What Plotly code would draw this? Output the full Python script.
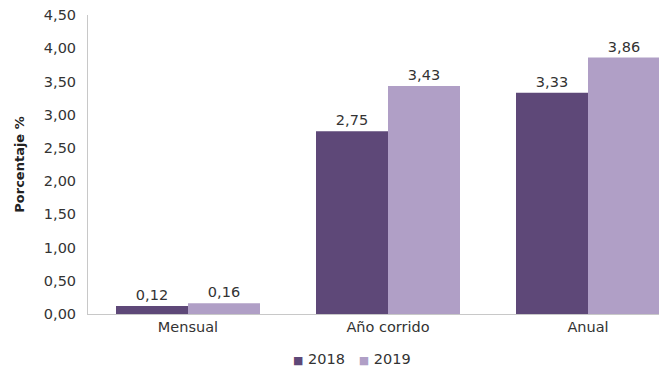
import plotly.graph_objects as go

categories = ["Mensual", "Año corrido", "Anual"]
values_2018 = [0.12, 2.75, 3.33]
values_2019 = [0.16, 3.43, 3.86]
series_names = ["2018", "2019"]
colors = ["#5e4878", "#b09fc6"]

FONT = "DejaVu Sans, Liberation Sans, Arial"
TEXT = "#333333"

fig = go.Figure()
for name, vals, col in zip(series_names, [values_2018, values_2019], colors):
    fig.add_trace(go.Bar(
        name=name,
        x=categories,
        y=vals,
        marker=dict(color=col, line=dict(width=0)),
        texttemplate="%{y:.2f}",
        textposition="outside",
        textfont=dict(size=14.5, color=TEXT, family=FONT),
        cliponaxis=False,
        showlegend=False,
    ))

# compact legend row: small coloured square followed by the series name
legend_text = "&nbsp;&nbsp;&nbsp;".join(
    f"<span style='color:{col};font-size:11px'>■</span>&nbsp;{name}"
    for name, col in zip(series_names, colors)
)
fig.add_annotation(
    text=legend_text,
    xref="paper", yref="paper",
    x=0.462, y=-0.152,
    xanchor="center", yanchor="middle",
    showarrow=False,
    font=dict(size=14.5, color=TEXT, family=FONT),
)

fig.update_layout(
    width=659,
    height=371,
    barmode="group",
    bargap=0.28,
    bargroupgap=0,
    separators=",.",
    paper_bgcolor="white",
    plot_bgcolor="white",
    margin=dict(l=88, r=0, t=15, b=57, autoexpand=False),
    font=dict(family=FONT, size=14.5, color=TEXT),
    showlegend=False,
    xaxis=dict(
        range=[-0.5, 2.355],
        showline=True,
        linecolor="#c8c8c8",
        linewidth=1,
        ticks="",
        showgrid=False,
        tickfont=dict(size=14.5, color=TEXT, family=FONT),
    ),
    yaxis=dict(
        range=[0, 4.5],
        dtick=0.5,
        tickformat=".2f",
        showline=True,
        linecolor="#c8c8c8",
        linewidth=1,
        ticks="",
        ticklabelstandoff=8,
        showgrid=False,
        zeroline=False,
        tickfont=dict(size=14.5, color=TEXT, family=FONT),
        title=dict(
            text="<b>Porcentaje %</b>",
            font=dict(size=13, color="#222222", family=FONT),
            standoff=16,
        ),
    ),
)

fig.write_html("out.html")
